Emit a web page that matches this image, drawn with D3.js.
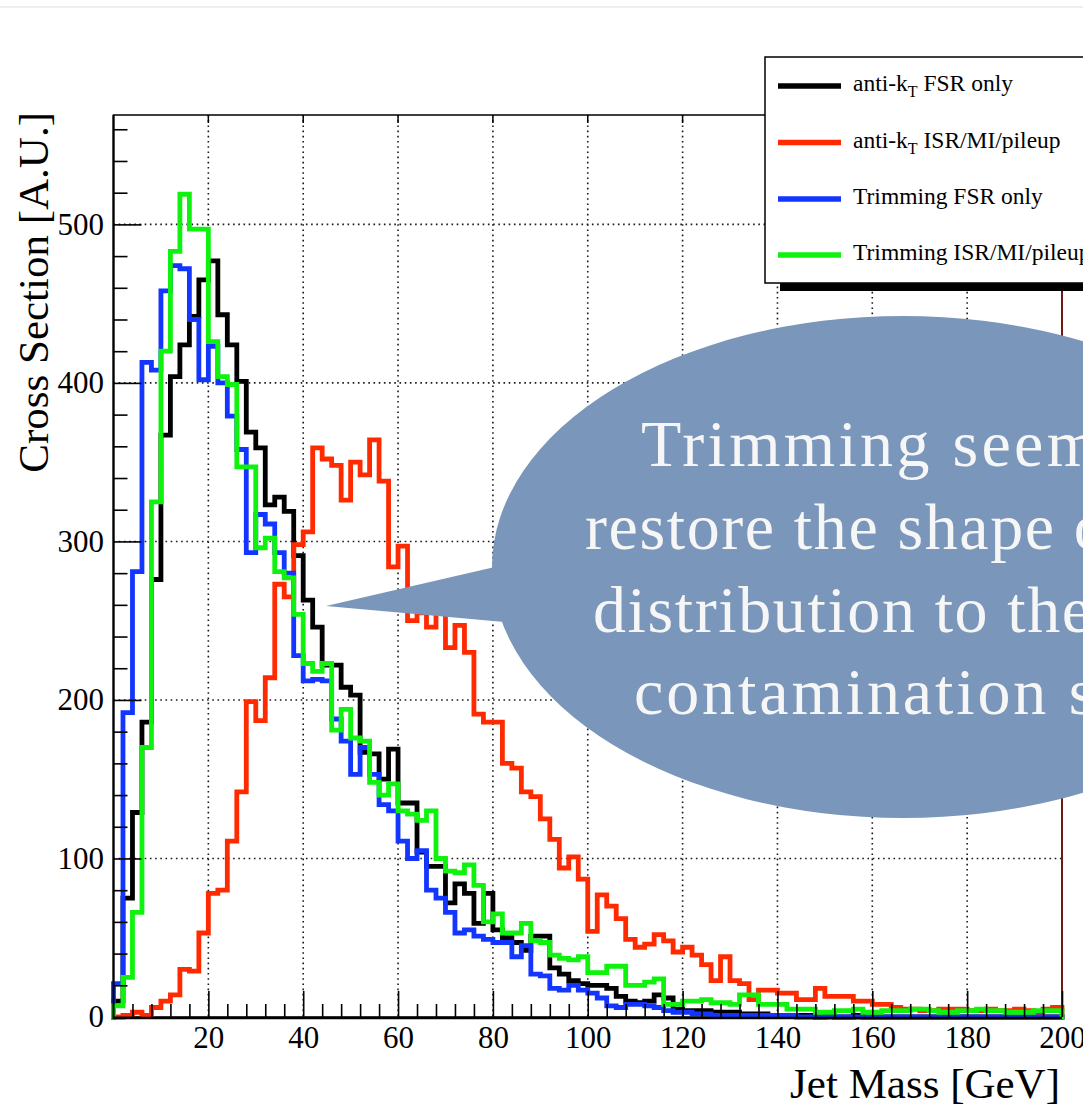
<!DOCTYPE html>
<html>
<head>
<meta charset="utf-8">
<script src="https://cdn.jsdelivr.net/npm/d3@7/dist/d3.min.js"></script>
<style>
  html, body { margin: 0; padding: 0; background: #fff; overflow: hidden; }
  svg { display: block; }
  text { font-family: "Liberation Serif", "Times New Roman", serif; }
</style>
</head>
<body>
<svg id="chart" width="1083" height="1111"></svg>
<script>
// Jet mass histograms, 2 GeV bins from 0 to 200 GeV
const binEdges = d3.range(0, 201, 2);

const antiktFsr = [
  10, 75, 129, 186, 276, 367, 404, 424, 442, 465,
  477, 443, 424, 401, 369, 359, 323, 328, 319, 291,
  263, 246, 222, 222, 208, 203, 167, 166, 150, 169,
  135, 135, 104, 95, 95, 72, 84, 78, 59, 78,
  55, 50, 47, 42, 51, 51, 31, 27, 23, 21,
  20, 20, 18, 13, 10, 9, 10, 14, 12, 5,
  4, 4, 4, 3, 3, 3, 2, 2, 2, 1,
  1, 1, 1, 1, 0, 1, 0, 0, 1, 0,
  0, 0, 0, 0, 0, 0, 0, 0, 0, 0,
  0, 0, 0, 0, 0, 0, 0, 0, 0, 0
];

const antiktIsr = [
  0, 1, 3, 1, 6, 10, 14, 30, 29, 53,
  78, 80, 111, 142, 199, 187, 214, 273, 265, 298,
  306, 359, 352, 348, 326, 350, 342, 364, 338, 284,
  297, 250, 255, 246, 255, 233, 247, 230, 191, 186,
  186, 160, 157, 142, 139, 125, 112, 94, 101, 87,
  54, 77, 70, 62, 49, 44, 46, 52, 48, 41,
  44, 39, 33, 23, 38, 23, 21, 11, 17, 17,
  15, 15, 11, 11, 18, 13, 13, 13, 10, 10,
  8, 8, 6, 5, 5, 4, 4, 5, 5, 5,
  4, 4, 5, 4, 4, 5, 4, 3, 5, 6
];

const trimFsr = [
  21, 192, 281, 413, 408, 458, 474, 472, 440, 402,
  423, 400, 379, 358, 293, 317, 311, 293, 280, 228,
  212, 213, 212, 188, 174, 153, 170, 153, 134, 130,
  111, 100, 105, 80, 75, 66, 53, 55, 51, 49,
  47, 47, 38, 45, 27, 26, 18, 17, 20, 17,
  15, 12, 7, 6, 8, 8, 7, 6, 4, 3,
  3, 2, 2, 1, 1, 1, 1, 1, 1, 1,
  1, 1, 0, 0, 0, 0, 0, 0, 0, 0,
  0, 0, 0, 0, 0, 0, 0, 0, 0, 0,
  0, 0, 0, 0, 0, 0, 0, 0, 0, 0
];

const trimIsr = [
  7, 25, 66, 170, 325, 420, 483, 519, 497, 497,
  426, 404, 399, 347, 347, 296, 302, 281, 277, 254,
  223, 218, 223, 181, 194, 176, 174, 148, 140, 147,
  130, 128, 124, 130, 100, 92, 91, 96, 83, 60,
  65, 53, 53, 59, 48, 47, 39, 37, 36, 38,
  28, 28, 32, 32, 20, 20, 22, 24, 8, 8,
  10, 10, 11, 9, 9, 8, 14, 14, 8, 8,
  8, 5, 5, 5, 3, 3, 4, 4, 5, 3,
  3, 4, 4, 4, 5, 5, 4, 3, 3, 4,
  4, 5, 4, 4, 3, 3, 3, 4, 4, 4
];

const seriesNames = ["anti-kT FSR only", "anti-kT ISR/MI/pileup", "Trimming FSR only", "Trimming ISR/MI/pileup"];
const seriesColors = ["#000000", "#ff2a00", "#1236ff", "#0ef20e"];
const seriesValues = [antiktFsr, antiktIsr, trimFsr, trimIsr];

// legend label pieces: prefix, subscript, suffix
const legendPrefix = ["anti-k", "anti-k", "Trimming FSR only", "Trimming ISR/MI/pileup"];
const legendSub = ["T", "T", "", ""];
const legendSuffix = [" FSR only", " ISR/MI/pileup", "", ""];

const xMajorTicks = [20, 40, 60, 80, 100, 120, 140, 160, 180, 200];
const yMajorTicks = [0, 100, 200, 300, 400, 500];

const calloutLines = ["Trimming seems to", "restore the shape of the", "distribution to the", "contamination state"];

const svg = d3.select("#chart");
const W = 1083, H = 1111;
const plot = { left: 113.5, right: 1062, top: 115, bottom: 1017 };

const x = d3.scaleLinear().domain([0, 200]).range([plot.left, plot.right]);
const y = d3.scaleLinear().domain([0, 569]).range([plot.bottom, plot.top]);

// faint page edge at the top
svg.append("rect").attr("x", 0).attr("y", 6).attr("width", W).attr("height", 2).attr("fill", "#efefef");

// dotted grid
const grid = svg.append("g");
grid.selectAll("line.gx").data(xMajorTicks.filter(d => d < 200)).join("line")
  .attr("x1", d => x(d)).attr("x2", d => x(d))
  .attr("y1", plot.top).attr("y2", plot.bottom)
  .attr("stroke", "#1a1a1a").attr("stroke-width", 1.6).attr("stroke-dasharray", "1.6,3.6");
grid.selectAll("line.gy").data(yMajorTicks.filter(d => d > 0)).join("line")
  .attr("x1", plot.left).attr("x2", plot.right)
  .attr("y1", d => y(d)).attr("y2", d => y(d))
  .attr("stroke", "#1a1a1a").attr("stroke-width", 1.6).attr("stroke-dasharray", "1.6,3.6");

// frame
svg.append("rect").attr("x", plot.left).attr("y", plot.top)
  .attr("width", plot.right - plot.left).attr("height", plot.bottom - plot.top)
  .attr("fill", "none").attr("stroke", "#000").attr("stroke-width", 1.5);

// step outline of each histogram
const stepLine = d3.line().x(d => x(d[0])).y(d => y(d[1]));
function stepPoints(vals) {
  const pts = [[binEdges[0], 0]];
  vals.forEach((v, i) => { pts.push([binEdges[i], v]); pts.push([binEdges[i + 1], v]); });
  pts.push([binEdges[binEdges.length - 1], 0]);
  return pts;
}
const hist = svg.append("g");
seriesValues.forEach((vals, k) => {
  hist.append("path")
    .attr("d", stepLine(stepPoints(vals)))
    .attr("fill", "none")
    .attr("stroke", seriesColors[k])
    .attr("stroke-width", 4.8)
    .attr("stroke-linejoin", "miter")
    .attr("stroke-linecap", "square");
});

// right frame edge
svg.append("line").attr("x1", plot.right).attr("x2", plot.right)
  .attr("y1", plot.top).attr("y2", plot.bottom)
  .attr("stroke", "#6e1a12").attr("stroke-width", 2);

// axes
const fontTick = 31;
const yAxisMajor = d3.axisLeft(y).tickValues(yMajorTicks).tickSize(-28).tickPadding(9.5);
const yAxisMinor = d3.axisLeft(y).tickValues(d3.range(0, 569, 20).filter(d => d % 100 !== 0)).tickSize(-14).tickFormat("");
const xAxisMajor = d3.axisBottom(x).tickValues(xMajorTicks).tickSize(-26).tickPadding(9);
const xAxisMinor = d3.axisBottom(x).tickValues(d3.range(4, 200, 4).filter(d => d % 20 !== 0)).tickSize(-13).tickFormat("");

function styleAxis(g) {
  g.select(".domain").remove();
  g.selectAll(".tick line").attr("stroke", "#000").attr("stroke-width", 1.6);
  g.selectAll("text").attr("fill", "#000")
    .style("font-family", '"Liberation Serif","Times New Roman",serif')
    .style("font-size", fontTick + "px");
}
svg.append("g").attr("transform", `translate(${plot.left},0)`).call(yAxisMinor).call(styleAxis);
svg.append("g").attr("transform", `translate(${plot.left},0)`).call(yAxisMajor).call(styleAxis);
svg.append("g").attr("transform", `translate(0,${plot.bottom})`).call(xAxisMinor).call(styleAxis);
svg.append("g").attr("transform", `translate(0,${plot.bottom})`).call(xAxisMajor).call(styleAxis);

// top ticks
svg.append("g").selectAll("line").data(xMajorTicks.filter(d => d < 200)).join("line")
  .attr("x1", d => x(d)).attr("x2", d => x(d))
  .attr("y1", plot.top).attr("y2", plot.top + 8)
  .attr("stroke", "#000").attr("stroke-width", 1.5);

// axis lines
svg.append("line").attr("x1", plot.left).attr("x2", plot.right).attr("y1", plot.bottom + 1).attr("y2", plot.bottom + 1)
  .attr("stroke", "#000").attr("stroke-width", 2.6);
svg.append("line").attr("x1", plot.left).attr("x2", plot.left).attr("y1", plot.top).attr("y2", plot.bottom + 2)
  .attr("stroke", "#000").attr("stroke-width", 2.2);

// axis titles
svg.append("text").attr("x", 1060).attr("y", 1098).attr("text-anchor", "end")
  .style("font-size", "43px").attr("fill", "#000").text("Jet Mass [GeV]");
svg.append("text").attr("transform", "translate(48,112) rotate(-90)").attr("text-anchor", "end")
  .style("font-size", "43px").attr("fill", "#000").text("Cross Section [A.U.]");

// callout bubble
const callout = svg.append("g");
const bubble = { cx: 903, cy: 567, rx: 411, ry: 251, fill: "#7a96ba" };
callout.append("ellipse").attr("cx", bubble.cx).attr("cy", bubble.cy)
  .attr("rx", bubble.rx).attr("ry", bubble.ry).attr("fill", bubble.fill);
const pointer = [[326, 606], [525, 560], [537, 625]];
callout.append("path").attr("d", d3.line()(pointer) + "Z").attr("fill", bubble.fill);
const lineStarts = [641, 585, 593, 634];
const lineBase = [466, 549, 632, 714];
const lineSpacing = [3.3, 1.6, 1.6, 2.9];
callout.selectAll("text").data(calloutLines).join("text")
  .attr("x", (d, i) => lineStarts[i]).attr("y", (d, i) => lineBase[i])
  .attr("fill", "#f6f6f6").style("font-size", "66px")
  .style("letter-spacing", (d, i) => lineSpacing[i] + "px").text(d => d);

// legend
const legend = svg.append("g");
legend.append("rect").attr("x", 780).attr("y", 283).attr("width", 330).attr("height", 8).attr("fill", "#000");
legend.append("rect").attr("x", 765).attr("y", 57).attr("width", 340).attr("height", 226)
  .attr("fill", "#fff").attr("stroke", "#000").attr("stroke-width", 1.5);
const legendY = [86, 142.5, 199, 255];
seriesNames.forEach((name, k) => {
  legend.append("line").attr("x1", 778).attr("x2", 841)
    .attr("y1", legendY[k]).attr("y2", legendY[k])
    .attr("stroke", seriesColors[k]).attr("stroke-width", 5.5);
  const t = legend.append("text").attr("x", 853).attr("y", legendY[k] + 5)
    .style("font-size", "23.5px").attr("fill", "#000");
  t.append("tspan").text(legendPrefix[k]);
  if (legendSub[k]) {
    t.append("tspan").attr("dy", 6).style("font-size", "16px").text(legendSub[k]);
    t.append("tspan").attr("dy", -6).text(legendSuffix[k]);
  }
});
</script>
</body>
</html>
